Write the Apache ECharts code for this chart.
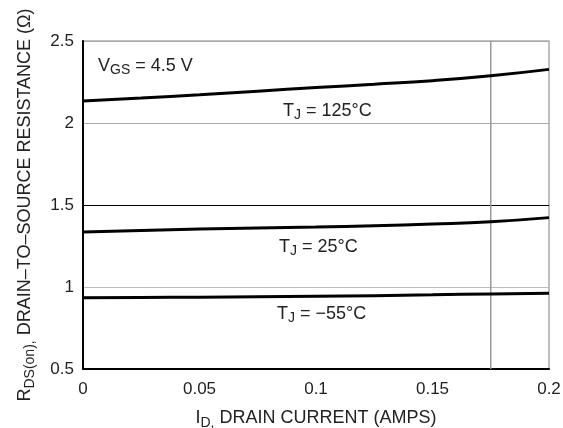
<!DOCTYPE html>
<html><head><meta charset="utf-8">
<script src="https://cdn.jsdelivr.net/npm/echarts@6/dist/echarts.min.js"></script>
<style>html,body{margin:0;padding:0;background:#fff}#c{width:563px;height:428px}</style>
</head><body><div id="c"></div>
<script>
const xValues = [0, 0.025, 0.05, 0.075, 0.1, 0.125, 0.15, 0.175, 0.2];
const r125 = [2.134, 2.152, 2.172, 2.194, 2.216, 2.236, 2.258, 2.288, 2.327];
const r25  = [1.335, 1.345, 1.353, 1.360, 1.366, 1.374, 1.384, 1.398, 1.423];
const rm55 = [0.935, 0.936, 0.938, 0.940, 0.943, 0.947, 0.952, 0.958, 0.962];
const xTicks = [0, 0.05, 0.1, 0.15, 0.2];
const yTicks = [0.5, 1, 1.5, 2, 2.5];
const markerX = 0.175;

const font = 'Liberation Sans, Arial, sans-serif';
const txt = '#222';
function mk(vals) {
  return {
    type: 'line', smooth: true, symbol: 'none',
    data: xValues.map((x, i) => [x, vals[i]]),
    lineStyle: { color: '#000', width: 3 }, z: 5
  };
}
function note(text, left, top) {
  return { type: 'text', left: left, top: top, z: 10,
    style: { text: text, fill: txt, font: '18px ' + font,
      rich: { s: { fontSize: 14, fontFamily: font, fill: txt, padding: [9, 0, 0, 0] } } } };
}
const chart = echarts.init(document.getElementById('c'), null, { renderer: 'canvas' });
chart.setOption({
  animation: false,
  backgroundColor: '#fff',
  grid: { left: 83, right: 14, top: 41, bottom: 59, show: true, borderColor: '#aaa', borderWidth: 1.5,
          containLabel: false, outerBoundsMode: 'none' },
  xAxis: {
    type: 'value', min: 0, max: 0.2, interval: 0.05,
    axisLine: { lineStyle: { color: '#000', width: 2 } },
    axisTick: { show: false }, splitLine: { show: false },
    axisLabel: { color: txt, fontSize: 17, fontFamily: font, margin: 12,
      formatter: v => xTicks.includes(+v.toFixed(3)) ? String(+v.toFixed(3)) : '' },
    name: 'I{s|D,} DRAIN CURRENT (AMPS)', nameLocation: 'middle', nameGap: 37,
    nameTextStyle: { color: txt, fontSize: 18, fontFamily: font,
      rich: { s: { fontSize: 14, fontFamily: font, color: txt, padding: [10, 0, 0, 0] } } }
  },
  yAxis: {
    type: 'value', min: 0.5, max: 2.5, interval: 0.5,
    axisLine: { show: true, lineStyle: { color: '#000', width: 2 } },
    axisTick: { show: false },
    splitLine: { show: true, lineStyle: { color: ['#000', '#bbb', '#000', '#aaa', '#aaa'], width: 1.2 } },
    axisLabel: { color: txt, fontSize: 17, fontFamily: font, margin: 9,
      formatter: v => yTicks.includes(+v.toFixed(2)) ? String(+v.toFixed(2)) : '' },
    name: 'R{s|DS(on),} DRAIN–TO–SOURCE RESISTANCE (Ω)', nameLocation: 'middle', nameGap: 46,
    nameTextStyle: { color: txt, fontSize: 18, fontFamily: font,
      rich: { s: { fontSize: 14, fontFamily: font, color: txt, padding: [10, 0, 0, 0] } } }
  },
  series: [
    mk(r125), mk(r25), mk(rm55),
    { type: 'line', symbol: 'none', silent: true, z: 3,
      data: [[markerX, 0.5], [markerX, 2.5]],
      lineStyle: { color: '#999', width: 1.5 } }
  ],
  graphic: [
    note('V{s|GS} = 4.5 V', 98, 57),
    note('T{s|J} = 125°C', 283, 102),
    note('T{s|J} = 25°C', 279, 238),
    note('T{s|J} = −55°C', 277, 305)
  ]
});
</script></body></html>
